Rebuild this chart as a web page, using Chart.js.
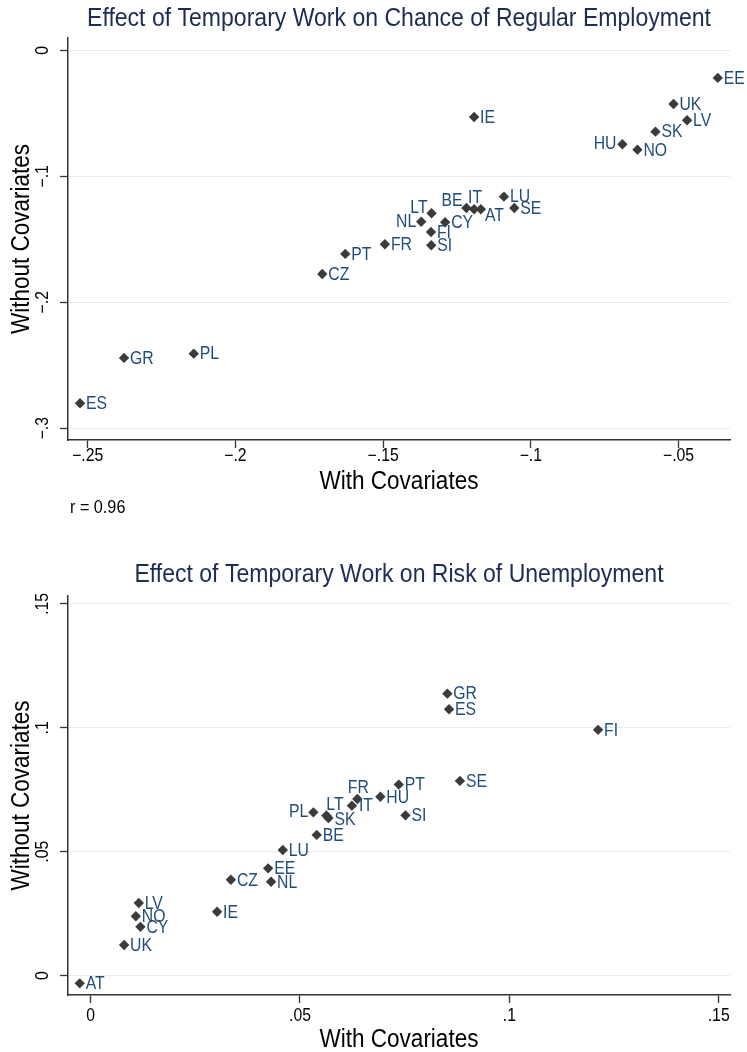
<!DOCTYPE html>
<html><head><meta charset="utf-8">
<script src="https://cdn.jsdelivr.net/npm/chart.js@4/dist/chart.umd.min.js"></script>
<style>html,body{margin:0;padding:0;background:#fff}canvas{display:block}</style>
</head><body>
<canvas id="c1" width="747" height="530"></canvas>
<canvas id="c2" width="747" height="522"></canvas>
<script>
// ---------- DATA ----------
const topTitle = 'Effect of Temporary Work on Chance of Regular Employment';
const topCodes = ['EE','UK','LV','SK','HU','NO','IE','LU','SE','BE','IT','AT','LT','NL','CY','FI','SI','FR','PT','CZ','GR','PL','ES'];
const topWithCov = [-0.0367,-0.0517,-0.0471,-0.0578,-0.0690,-0.0639,-0.1192,-0.1091,-0.1056,-0.1218,-0.1192,-0.1169,-0.1336,-0.1371,-0.1290,-0.1338,-0.1337,-0.1494,-0.1628,-0.1706,-0.2377,-0.2141,-0.2526];
const topWithoutCov = [-0.0218,-0.0425,-0.0554,-0.0645,-0.0745,-0.0788,-0.0528,-0.1161,-0.1251,-0.1251,-0.1261,-0.1261,-0.1293,-0.1360,-0.1365,-0.1442,-0.1547,-0.1539,-0.1616,-0.1775,-0.2442,-0.2408,-0.2802];
const topXTicks = [-0.25,-0.2,-0.15,-0.1,-0.05];
const topXTickLabels = ['\u2212.25','\u2212.2','\u2212.15','\u2212.1','\u2212.05'];
const topYTicks = [0,-0.1,-0.2,-0.3];
const topYTickLabels = ['0','\u2212.1','\u2212.2','\u2212.3'];
const topNote = 'r = 0.96';

const botTitle = 'Effect of Temporary Work on Risk of Unemployment';
const botCodes = ['AT','UK','CY','NO','LV','IE','CZ','EE','NL','LU','GR','ES','SE','PT','HU','FR','IT','LT','SK','PL','BE','SI','FI'];
const botWithCov = [-0.0026,0.0080,0.0119,0.0108,0.0115,0.0302,0.0335,0.0424,0.0431,0.0459,0.0852,0.0856,0.0882,0.0736,0.0692,0.0637,0.0624,0.0563,0.0568,0.0532,0.0540,0.0752,0.1212];
const botWithoutCov = [-0.0031,0.0124,0.0197,0.0240,0.0293,0.0258,0.0387,0.0433,0.0379,0.0507,0.1138,0.1075,0.0786,0.0771,0.0722,0.0713,0.0686,0.0646,0.0636,0.0659,0.0568,0.0647,0.0992];
const botXTicks = [0,0.05,0.1,0.15];
const botXTickLabels = ['0','.05','.1','.15'];
const botYTicks = [0,0.05,0.1,0.15];
const botYTickLabels = ['0','.05','.1','.15'];

const xAxisTitle = 'With Covariates';
const yAxisTitle = 'Without Covariates';

// ---------- STYLE ----------
const SX = 0.9;
const FONT = '"Liberation Sans", Arial, Helvetica, sans-serif';
const LABEL_COLOR = '#1f4c7a';
const TITLE_COLOR = '#1d2b55';
const MARKER_COLOR = '#3b3b3b';
const topLabelPos = {HU:[-6,0,'right'],NL:[-5,0,'right'],LT:[-4,-5,'right'],BE:[-4,-7,'right'],IT:[1,-11,'center'],AT:[4,7,'left']};
const botLabelPos = {FR:[1,-11,'center'],LT:[0,-10,'left'],IT:[7,1,'left'],PL:[-5,0,'right'],SK:[6,2,'left']};

function txt(ctx, s, x, y, size, color, align, baseline, rot) {
  ctx.save();
  ctx.translate(x, y);
  if (rot) ctx.rotate(rot);
  ctx.scale(SX, 1);
  ctx.font = size + 'px ' + FONT;
  ctx.fillStyle = color;
  ctx.textAlign = align;
  ctx.textBaseline = baseline;
  ctx.fillText(s, 0, 0);
  ctx.restore();
}

function makeChart(id, cfg) {
  const decor = {
    id: 'decor',
    afterDraw(chart) {
      const ctx = chart.ctx, ca = chart.chartArea;
      const xs = chart.scales.x, ys = chart.scales.y;
      const cx = (ca.left + ca.right) / 2, cy = (ca.top + ca.bottom) / 2;
      txt(ctx, cfg.title, cx, cfg.titleY, 25.6, TITLE_COLOR, 'center', 'middle');
      cfg.xTicks.forEach((v, i) => txt(ctx, cfg.xTickLabels[i], xs.getPixelForValue(v), cfg.xTickY, 17.5, '#000', 'center', 'middle'));
      cfg.yTicks.forEach((v, i) => txt(ctx, cfg.yTickLabels[i], 43, ys.getPixelForValue(v), 17.5, '#000', 'center', 'middle', -Math.PI / 2));
      txt(ctx, xAxisTitle, cx, cfg.xTitleY, 25, '#000', 'center', 'middle');
      txt(ctx, yAxisTitle, 22, cy, 25, '#000', 'center', 'middle', -Math.PI / 2);
      if (cfg.note) txt(ctx, cfg.note, 70, cfg.noteY, 18, '#000', 'left', 'middle');
      const meta = chart.getDatasetMeta(0);
      meta.data.forEach((pt, i) => {
        const code = cfg.codes[i];
        const p = cfg.labelPos[code] || [6, 1, 'left'];
        txt(ctx, code, pt.x + p[0], pt.y + p[1], 17.5, LABEL_COLOR, p[2], 'middle');
      });
    }
  };
  return new Chart(document.getElementById(id), {
    type: 'scatter',
    data: { datasets: [{
      data: cfg.xs.map((x, i) => ({ x: x, y: cfg.ys[i] })),
      pointStyle: 'rectRot', pointRadius: 5.2, pointHoverRadius: 5.2,
      backgroundColor: MARKER_COLOR, borderColor: MARKER_COLOR, borderWidth: 0
    }]},
    options: {
      responsive: false, animation: false, events: [],
      layout: { autoPadding: false, padding: { left: 0, right: 17, top: cfg.padTop, bottom: 0 } },
      plugins: { legend: { display: false }, tooltip: { enabled: false }, title: { display: false } },
      scales: {
        x: {
          type: 'linear', min: cfg.xMin, max: cfg.xMax,
          afterBuildTicks: s => { s.ticks = cfg.xTicks.map(v => ({ value: v })); },
          afterFit: s => { s.height = cfg.xAxisH; },
          ticks: { display: false },
          grid: { drawOnChartArea: false, drawTicks: true, tickLength: 8, tickColor: '#333', tickWidth: 1.3 },
          border: { display: true, color: '#333', width: 1.5 }
        },
        y: {
          type: 'linear', min: cfg.yMin, max: cfg.yMax,
          afterBuildTicks: s => { s.ticks = cfg.yTicks.map(v => ({ value: v })); },
          afterFit: s => { s.width = 68; },
          ticks: { display: false },
          grid: { color: '#e4ecef', lineWidth: 1, drawTicks: true, tickLength: 8, tickColor: '#333', tickWidth: 1.3 },
          border: { display: true, color: '#333', width: 1.5 }
        }
      }
    },
    plugins: [decor]
  });
}

makeChart('c1', {
  title: topTitle, titleY: 19, padTop: 38, xAxisH: 90,
  codes: topCodes, xs: topWithCov, ys: topWithoutCov, labelPos: topLabelPos,
  xMin: -0.25667, xMax: -0.03257, yMin: -0.3094, yMax: 0.0099,
  xTicks: topXTicks, xTickLabels: topXTickLabels, yTicks: topYTicks, yTickLabels: topYTickLabels,
  xTickY: 456, xTitleY: 482, note: topNote, noteY: 508
});
makeChart('c2', {
  title: botTitle, titleY: 45, padTop: 66, xAxisH: 57,
  codes: botCodes, xs: botWithCov, ys: botWithoutCov, labelPos: botLabelPos,
  xMin: -0.0054, xMax: 0.1527, yMin: -0.0078, yMax: 0.1532,
  xTicks: botXTicks, xTickLabels: botXTickLabels, yTicks: botYTicks, yTickLabels: botYTickLabels,
  xTickY: 486, xTitleY: 510
});
</script>
</body></html>
